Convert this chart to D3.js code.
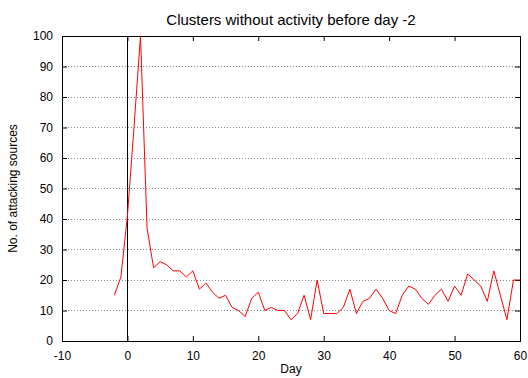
<!DOCTYPE html>
<html>
<head>
<meta charset="utf-8">
<script src="https://cdn.jsdelivr.net/npm/d3@7"></script>
<style>
  body { margin: 0; background: #fff; }
  svg { display: block; font-family: "Liberation Sans", Arial, sans-serif; }
</style>
</head>
<body>
<div id="chart"></div>
<script>
// Données
const days = d3.range(-2, 61);
const sources = [15, 21, 41, 70, 100, 37, 24, 26, 25, 23, 23, 21, 23, 17, 19, 16, 14, 15, 11, 10,
  8, 14, 16, 10, 11, 10, 10, 7, 9, 15, 7, 20, 9, 9, 9, 11, 17, 9, 13, 14,
  17, 14, 10, 9, 15, 18, 17, 14, 12, 15, 17, 13, 18, 15, 22, 20, 18, 13, 23, 15,
  7, 20, 20];
const xTicks = [-10, 0, 10, 20, 30, 40, 50, 60];
const yTicks = [0, 10, 20, 30, 40, 50, 60, 70, 80, 90, 100];

const W = 528, H = 378;
const margin = { top: 36, right: 8, bottom: 37, left: 62 };
const width = W - margin.left - margin.right;
const height = H - margin.top - margin.bottom;

const svg = d3.select("#chart").append("svg")
  .attr("width", W)
  .attr("height", H);

const g = svg.append("g")
  .attr("transform", `translate(${margin.left},${margin.top})`);

const x = d3.scaleLinear().domain([-10, 60]).range([0, width]);
const y = d3.scaleLinear().domain([0, 100]).range([height, 0]);

// Grille horizontale pointillée
g.selectAll(".grid")
  .data(yTicks.filter(d => d > 0 && d < 100))
  .enter().append("line")
  .attr("x1", 0).attr("x2", width)
  .attr("y1", d => y(d)).attr("y2", d => y(d))
  .attr("stroke", "#888")
  .attr("stroke-width", 1)
  .attr("stroke-dasharray", "1 2")
  .attr("shape-rendering", "crispEdges");

// Axe vertical au jour 0
g.append("line")
  .attr("x1", x(0)).attr("x2", x(0))
  .attr("y1", 0).attr("y2", height)
  .attr("stroke", "#000")
  .attr("shape-rendering", "crispEdges");

// Axes (ticks vers l'intérieur)
const axisStyle = sel => {
  sel.select(".domain").remove();
  sel.selectAll(".tick line").attr("stroke", "#000");
  sel.selectAll("text").attr("font-size", "12px").attr("fill", "#000")
    .attr("font-family", "Liberation Sans, Arial, sans-serif");
};
const plain = d => String(d); // tiret simple comme dans l'original

g.append("g")
  .attr("transform", `translate(0,${height})`)
  .call(d3.axisBottom(x).tickValues(xTicks).tickSize(-5).tickPadding(10).tickFormat(plain))
  .call(axisStyle);

g.append("g")
  .call(d3.axisTop(x).tickValues(xTicks).tickSize(-5).tickFormat(""))
  .call(axisStyle);

g.append("g")
  .call(d3.axisLeft(y).tickValues(yTicks).tickSize(-5).tickPadding(9).tickFormat(plain))
  .call(axisStyle);

g.append("g")
  .attr("transform", `translate(${width},0)`)
  .call(d3.axisRight(y).tickValues(yTicks).tickSize(-5).tickFormat(""))
  .call(axisStyle);

// Cadre
g.append("rect")
  .attr("width", width).attr("height", height)
  .attr("fill", "none")
  .attr("stroke", "#000")
  .attr("stroke-width", 1)
  .attr("shape-rendering", "crispEdges");

// Courbe
const line = d3.line()
  .x((d, i) => x(days[i]))
  .y(d => y(d));

g.append("path")
  .datum(sources)
  .attr("fill", "none")
  .attr("stroke", "#ff0000")
  .attr("stroke-width", 1)
  .attr("d", line);

// Titre et libellés
svg.append("text")
  .attr("x", margin.left + width / 2)
  .attr("y", 25)
  .attr("text-anchor", "middle")
  .attr("font-size", "15px")
  .text("Clusters without activity before day -2");

svg.append("text")
  .attr("x", margin.left + width / 2)
  .attr("y", 373)
  .attr("text-anchor", "middle")
  .attr("font-size", "12px")
  .text("Day");

svg.append("text")
  .attr("transform", `translate(17,${margin.top + height / 2}) rotate(-90)`)
  .attr("text-anchor", "middle")
  .attr("font-size", "12px")
  .text("No. of attacking sources");
</script>
</body>
</html>
